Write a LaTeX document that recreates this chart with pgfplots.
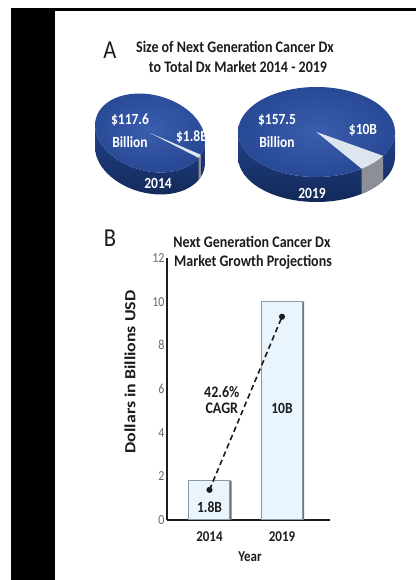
\documentclass[border=0pt]{standalone}
\usepackage{pgfplots}
\pgfplotsset{compat=1.18}
\usepackage{fontspec}
\setmainfont{Carlito}

\definecolor{pieTop}{HTML}{284995}
\definecolor{pieTopIn}{HTML}{3A5DAD}
\definecolor{pieSide}{HTML}{22418A}
\definecolor{pieSideDk}{HTML}{132958}
\definecolor{sliceTop}{HTML}{DDE5EF}
\definecolor{sliceSide}{HTML}{8C9096}
\definecolor{barFill}{HTML}{EAF4FC}
\definecolor{barEdge}{HTML}{8E98A2}
\definecolor{barShadow}{HTML}{6C747D}
\definecolor{tickGray}{HTML}{6A6A6A}
\definecolor{ink}{HTML}{1C1C1C}

% market size, billions USD: total Dx market and next generation cancer Dx
\def\totalA{117.6} \def\partA{1.8}
\def\totalB{157.5} \def\partB{10}

% 3d pie: cx, cy, rx, ry, depth, tilt, total, part, end angle of slice
\newcommand\pie[9]{%
  \begin{scope}[shift={(#1,#2)}, rotate=#6]
    \pgfmathsetmacro\dx{-#5*sin(#6)}
    \pgfmathsetmacro\dy{-#5*cos(#6)}
    \pgfmathsetmacro\ndx{#5*sin(#6)}
    \pgfmathsetmacro\ndy{#5*cos(#6)}
    \pgfmathsetmacro\tz{atan(-#4*sin(#6)/(#3*cos(#6)))}
    \pgfmathsetmacro\tl{\tz+180}
    \pgfmathsetmacro\tr{\tz+360}
    \pgfmathsetmacro\tm{\tz-180}
    \pgfmathsetmacro\ta{#9-360*#8/#7}
    \shade[top color=pieSide, bottom color=pieSideDk]
      (\tl:#3 and #4) -- ++(\dx,\dy)
      arc[start angle=\tl, end angle=\tr, x radius=#3, y radius=#4]
      -- ++(\ndx,\ndy)
      arc[start angle=\tz, end angle=\tm, x radius=#3, y radius=#4] -- cycle;
    \fill[sliceSide] (\ta:#3 and #4)
      arc[start angle=\ta, end angle=#9, x radius=#3, y radius=#4]
      -- ++(\dx,\dy)
      arc[start angle=#9, end angle=\ta, x radius=#3, y radius=#4] -- cycle;
    \shade[inner color=pieTopIn, outer color=pieTop] (0,0) ellipse[x radius=#3, y radius=#4];
    \fill[sliceTop] (0,0) -- (\ta:#3 and #4)
      arc[start angle=\ta, end angle=#9, x radius=#3, y radius=#4] -- cycle;
  \end{scope}}

\begin{document}
\begin{tikzpicture}[x=1pt, y=1pt,
  st/.style={yscale=1.15, inner sep=0pt},
  ttl/.style={st, text=ink, font=\fontsize{14}{14}\selectfont\bfseries},
  big/.style={st, text=ink, font=\fontsize{22.5}{22.5}\selectfont},
  pl/.style={st, text=white, font=\fontsize{13.5}{13.5}\selectfont\bfseries},
  lb/.style={st, text=ink, font=\fontsize{13.5}{13.5}\selectfont\bfseries}]
\fill[white] (0,0) rectangle (416,580);
% frame
\fill[black] (11,0) rectangle (55,572);
\fill[black] (11,569) rectangle (416,572);

% panel A
\node[big] at (110,530) {A};
\node[ttl] at (235,533) {Size of Next Generation Cancer Dx};
\node[ttl] at (238,513) {to Total Dx Market 2014 - 2019};

\pie{150}{447}{56}{38}{22}{-15}{\totalA}{\partA}{-12}
\pie{316.5}{448}{78.5}{45}{25}{0}{\totalB}{\partB}{-32}

\node[pl] at (130,460) {\$117.6};
\node[pl] at (130,438) {Billion};
\node[pl] at (192,443) {\$1.8B};
\node[pl] at (158,397) {2014};
\node[pl] at (277,460) {\$157.5};
\node[pl] at (277,438) {Billion};
\node[pl] at (363,450) {\$10B};
\node[pl] at (312,387) {2019};

% panel B
\node[big] at (110,342) {B};
\node[ttl] at (252,338) {Next Generation Cancer Dx};
\node[ttl] at (253,318) {Market Growth Projections};
\node[st, rotate=90, text=ink, font=\fontsize{15.5}{15.5}\selectfont\bfseries] at (130,208) {Dollars in Billions USD};
\node[st, text=ink, font=\fontsize{13}{13}\selectfont\bfseries] at (250,23) {Year};

\begin{axis}[at={(167pt,60pt)}, anchor=south west,
  scale only axis, width=163pt, height=262pt,
  xmin=-0.586, xmax=1.662, ymin=0, ymax=12,
  axis x line*=bottom, axis y line*=left,
  axis line style={line width=1.3pt, ink, -},
  xtick={0,1}, xticklabels={2014,2019},
  ytick={0,2,4,6,8,10,12},
  yticklabel={\pgfmathprintnumber[assume math mode=true]{\tick}},
  major tick length=0pt,
  xticklabel style={font=\fontsize{13}{13}\selectfont\bfseries, text=ink,
    anchor=center, yshift=-17pt, yscale=1.15},
  yticklabel style={font=\fontsize{12}{12}\selectfont, text=tickGray, yscale=1.15,
    xshift=1pt},
  clip=false]
\addplot[ybar, bar width=41pt, bar shift=1.6pt, fill=barShadow, draw=none]
  coordinates {(0,1.8) (1,10)};
\addplot[ybar, bar width=41pt, bar shift=0pt, fill=barFill, draw=barEdge, line width=1pt]
  coordinates {(0,1.8) (1,10)};
\addplot[ink, line width=1.6pt, dash pattern=on 5.5pt off 3.5pt,
  mark=*, mark size=2.2pt, mark options={solid}]
  coordinates {(0,1.38) (1,9.31)};
\node[lb, font=\fontsize{14}{14}\selectfont\bfseries] at (axis cs:0.17,5.87) {42.6\%};
\node[lb, font=\fontsize{14}{14}\selectfont\bfseries] at (axis cs:0.17,5.1) {CAGR};
\node[lb] at (axis cs:1,5.1) {10B};
\node[lb] at (axis cs:0,0.6) {1.8B};
\end{axis}
\end{tikzpicture}
\end{document}
